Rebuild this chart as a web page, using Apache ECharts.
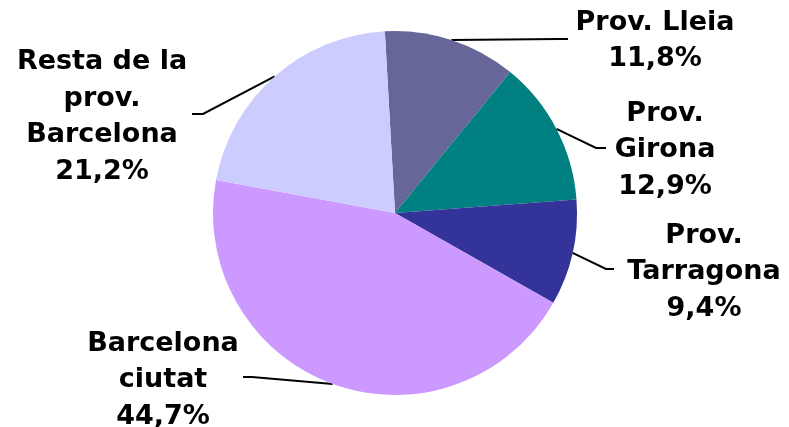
<!DOCTYPE html>
<html>
<head>
<meta charset="utf-8">
<script src="https://cdn.jsdelivr.net/npm/echarts@6/dist/echarts.min.js"></script>
<style>
  html, body { margin: 0; padding: 0; background: #fff; }
  #chart { width: 789px; height: 427px; }
</style>
</head>
<body>
<div id="chart"></div>
<script>
// data
var names = ['Prov. Lleia', 'Prov.\nGirona', 'Prov.\nTarragona', 'Barcelona\nciutat', 'Resta de la\nprov.\nBarcelona'];
var values = [11.8, 12.9, 9.4, 44.7, 21.2];
var colors = ['#666699', '#008080', '#333399', '#CC99FF', '#CCCCFF'];

// where each label block sits and how its leader bends
var labelPos = [[655, 41], [665, 150], [704, 272], [163, 380], [102, 117]];
var bendPts = [
  [[560, 39], [568, 39]],
  [[596, 148], [606, 148]],
  [[606, 269], [614, 269]],
  [[252, 377], [243, 377]],
  [[203, 114], [192, 114]]
];

var chart = echarts.init(document.getElementById('chart'));

var option = {
  animation: false,
  series: [{
    type: 'pie',
    center: [395, 213],
    radius: 182,
    startAngle: 93.2,
    clockwise: true,
    data: names.map(function (n, i) {
      return { name: n, value: values[i], itemStyle: { color: colors[i] } };
    }),
    label: {
      show: true,
      position: 'outside',
      formatter: function (p) {
        return p.name + '\n' + p.value.toFixed(1).replace('.', ',') + '%';
      },
      fontFamily: 'DejaVu Sans',
      fontWeight: 'bold',
      fontSize: 27,
      lineHeight: 36.5,
      color: '#000',
      align: 'center'
    },
    labelLine: {
      show: true,
      length: 20,
      length2: 10,
      lineStyle: { color: '#000', width: 2 }
    },
    labelLayout: function (params) {
      var i = params.dataIndex;
      var start = params.labelLinePoints ? params.labelLinePoints[0] : null;
      var out = {
        x: labelPos[i][0],
        y: labelPos[i][1],
        align: 'center',
        verticalAlign: 'middle'
      };
      if (start) {
        out.labelLinePoints = [start, bendPts[i][0], bendPts[i][1]];
      }
      return out;
    },
    emphasis: { disabled: true }
  }]
};

chart.setOption(option);
</script>
</body>
</html>
